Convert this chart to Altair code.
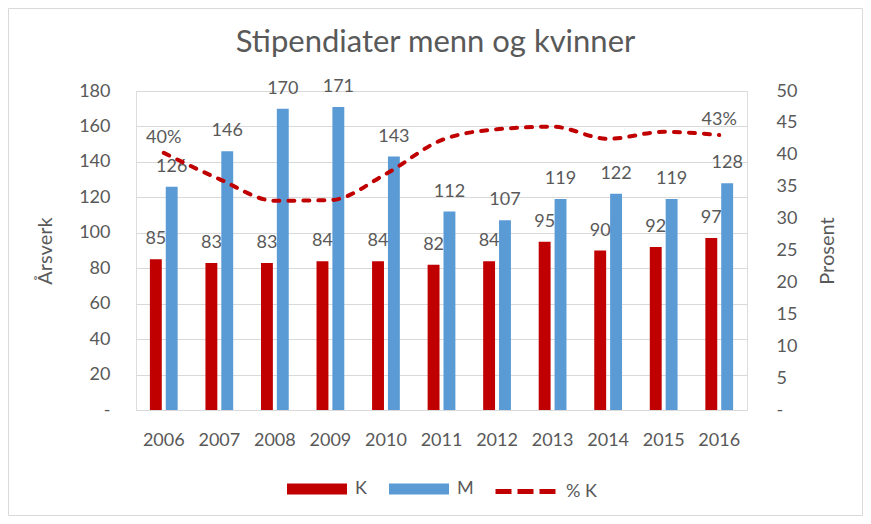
import altair as alt
import pandas as pd

years = ["2006", "2007", "2008", "2009", "2010", "2011", "2012", "2013", "2014", "2015", "2016"]
k_vals = [85, 83, 83, 84, 84, 82, 84, 95, 90, 92, 97]
m_vals = [126, 146, 170, 171, 143, 112, 107, 119, 122, 119, 128]
pct_k = [40.3, 36.2, 32.8, 32.9, 37.0, 42.3, 44.0, 44.4, 42.5, 43.6, 43.1]
pct_labels = ["40%", "", "", "", "", "", "", "", "", "", "43%"]
title_text = ["Stipendiater menn og kvinner"]

RED = "#C00000"
BLUE = "#5B9BD5"
GRAY = "#595959"
GRID = "#D9D9D9"
FONT = "Lato"

W, H = 611, 319
PL, PT = 128, 83
TOTAL_W, TOTAL_H = 855, 508
PR = TOTAL_W - PL - W
PB = TOTAL_H - PT - H

bars_df = pd.DataFrame({
    "year": years * 2,
    "series": ["K"] * len(years) + ["M"] * len(years),
    "value": k_vals + m_vals,
})
line_df = pd.DataFrame({"year": years, "pct": pct_k, "label": pct_labels, "s": ["% K"] * len(years)})
title_df = pd.DataFrame({"t": title_text})

x_enc = alt.X("year:N", sort=years,
              scale=alt.Scale(paddingInner=0.5, paddingOuter=0.25),
              axis=alt.Axis(title=None, labelAngle=0, labelFontSize=18, labelColor=GRAY,
                            labelFont=FONT, labelPadding=21, ticks=False,
                            domainColor=GRID, domainWidth=1, grid=False))

y_left = alt.Y("value:Q", scale=alt.Scale(domain=[0, 180], nice=False),
               axis=alt.Axis(values=list(range(0, 181, 20)),
                             labelExpr="datum.value == 0 ? '-' : datum.label",
                             title="Årsverk", titleFontSize=20, titleColor=GRAY, titleFont=FONT,
                             titleFontWeight="normal", titleAngle=270, titleX=-91, titleY=H / 2,
                             titleBaseline="middle", titleAlign="center",
                             labelFontSize=18, labelColor=GRAY, labelFont=FONT, labelPadding=26,
                             ticks=False, domain=False, grid=True, gridColor=GRID, gridWidth=1))

y_right = alt.Y("pct:Q", scale=alt.Scale(domain=[0, 50], nice=False),
                axis=alt.Axis(orient="right", values=list(range(0, 51, 5)),
                              labelExpr="datum.value == 0 ? '-' : datum.label",
                              title="Prosent", titleFontSize=20, titleColor=GRAY, titleFont=FONT,
                              titleFontWeight="normal", titleAngle=270, titleX=80, titleY=H / 2,
                              titleBaseline="middle", titleAlign="center",
                              labelFontSize=18, labelColor=GRAY, labelFont=FONT, labelPadding=29,
                              ticks=False, domain=False, grid=False))

x_off = alt.XOffset("series:N", sort=["K", "M"], scale=alt.Scale(paddingInner=0.25))

bars = alt.Chart(bars_df).mark_bar().encode(
    x=x_enc,
    xOffset=x_off,
    y=y_left,
    color=alt.Color("series:N",
                    scale=alt.Scale(domain=["K", "M"], range=[RED, BLUE]),
                    legend=alt.Legend(orient="none", legendX=151, legendY=368, direction="horizontal",
                                      title=None, symbolType="M-1,-0.18H1V0.18H-1Z", symbolSize=3600,
                                      symbolStrokeWidth=0, labelFontSize=18, labelColor=GRAY,
                                      labelFont=FONT, labelOffset=8, columnPadding=22)),
)

bar_text = alt.Chart(bars_df).mark_text(fontSize=18, color=GRAY, font=FONT, baseline="middle", dy=-20).encode(
    x=x_enc,
    xOffset=x_off,
    y=y_left,
    text=alt.Text("value:Q"),
)

line = alt.Chart(line_df).mark_line(strokeWidth=4, strokeDash=[6, 9], strokeCap="round",
                                    interpolate="monotone").encode(
    x=x_enc,
    y=y_right,
    color=alt.Color("s:N", scale=alt.Scale(domain=["% K"], range=[RED]),
                    legend=alt.Legend(orient="none", legendX=357, legendY=368, title=None,
                                      symbolType="M-1,0H1", symbolSize=3600, symbolStrokeWidth=5,
                                      symbolDash=[16, 6], labelFontSize=18, labelColor=GRAY,
                                      labelFont=FONT, labelOffset=8)),
)

line_text = alt.Chart(line_df).mark_text(fontSize=18, color=GRAY, font=FONT, baseline="middle", dy=-15).encode(
    x=x_enc,
    y=y_right,
    text="label:N",
)

border = alt.Chart(pd.DataFrame({"a": [0]})).mark_rect(fill=None, stroke=GRID, strokeWidth=1).encode(
    x=alt.value(-PL + 0.5), x2=alt.value(W + PR - 0.5),
    y=alt.value(-PT + 0.5), y2=alt.value(H + PB - 0.5),
)

title = alt.Chart(title_df).mark_text(fontSize=31, color=GRAY, font=FONT, align="center",
                                      baseline="alphabetic").encode(
    x=alt.value(W / 2 - 6), y=alt.value(-39), text="t:N",
)

left = alt.layer(bars, bar_text)
right = alt.layer(line, line_text)

chart = alt.layer(left, right, border, title).resolve_scale(y="independent", color="independent").properties(
    width=W, height=H,
    autosize=alt.AutoSizeParams(type="none"),
    padding={"left": PL, "top": PT, "right": PR, "bottom": PB},
).configure_view(stroke=None).configure(background="white")

chart.save("out.html", embed_options={"renderer": "svg", "actions": False})
